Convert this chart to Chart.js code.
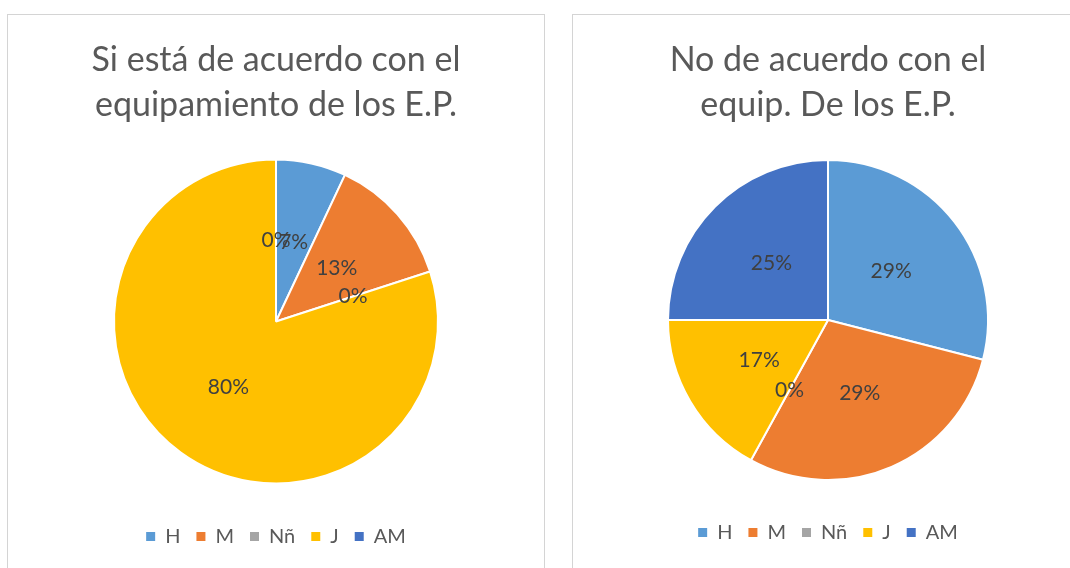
<!DOCTYPE html>
<html lang="es">
<head>
<meta charset="UTF-8">
<title>Equipamiento de los E.P.</title>
<script src="https://cdn.jsdelivr.net/npm/chart.js"></script>
<style>
  html, body { margin: 0; padding: 0; background: #fff; width: 1070px; height: 568px; overflow: hidden; position: relative; }
  .panel { position: absolute; top: 14px; height: 600px; border: 1px solid #d4d4d4; box-sizing: border-box; }
  canvas { position: absolute; top: 14px; }
</style>
</head>
<body>
  <div class="panel" style="left:7px; width:538px;"></div>
  <div class="panel" style="left:572px; width:520px;"></div>
  <canvas id="chartSi" width="538" height="560" style="left:7px;"></canvas>
  <canvas id="chartNo" width="512" height="560" style="left:572px;"></canvas>

<script>
// categorías
const categorias = ['H', 'M', 'Nñ', 'J', 'AM'];
const colores = ['#5B9BD5', '#ED7D31', '#A5A5A5', '#FFC000', '#4472C4'];

// porcentajes
const valoresSi = [7, 13, 0, 80, 0];
const valoresNo = [29, 29, 0, 17, 25];

const tituloSi = ['Si está de acuerdo con el', 'equipamiento de los E.P.'];
const tituloNo = ['No de acuerdo con el', 'equip. De los E.P.'];

const fuente = "Lato, 'Open Sans', sans-serif";
const gris = '#595959';

// etiquetas de porcentaje dentro de cada porción
const etiquetas = {
    id: 'etiquetas',
    afterDatasetsDraw(chart) {
        const ctx = chart.ctx;
        const meta = chart.getDatasetMeta(0);
        const data = chart.data.datasets[0].data;
        ctx.save();
        ctx.font = '21px ' + fuente;
        ctx.fillStyle = '#404040';
        ctx.textAlign = 'center';
        ctx.textBaseline = 'middle';
        meta.data.forEach((arc, i) => {
            const p = arc.tooltipPosition();
            ctx.fillText(data[i] + '%', p.x, p.y);
        });
        ctx.restore();
    }
};

function crearPie(id, titulo, valores, radio, padTitulo, padAbajo) {
    new Chart(document.getElementById(id), {
        type: 'pie',
        data: {
            labels: categorias,
            datasets: [{
                data: valores,
                backgroundColor: colores,
                borderColor: '#FFFFFF',
                borderWidth: 2,
                radius: radio
            }]
        },
        options: {
            responsive: false,
            animation: false,
            devicePixelRatio: 1,
            layout: { padding: { bottom: padAbajo } },
            plugins: {
                tooltip: { enabled: false },
                title: {
                    display: true,
                    text: titulo,
                    color: gris,
                    font: { family: fuente, size: 34, weight: '400', lineHeight: '45px' },
                    padding: padTitulo
                },
                legend: {
                    position: 'bottom',
                    labels: {
                        color: gris,
                        font: { family: fuente, size: 20 },
                        boxWidth: 9,
                        boxHeight: 9,
                        padding: 16,
                        generateLabels(chart) {
                            return Chart.overrides.pie.plugins.legend.labels.generateLabels(chart)
                                .map(l => Object.assign(l, { lineWidth: 0 }));
                        }
                    }
                }
            }
        },
        plugins: [etiquetas]
    });
}

crearPie('chartSi', tituloSi, valoresSi, 162, { top: 23.5, bottom: 5 }, 17.5);
crearPie('chartNo', tituloNo, valoresNo, 160, { top: 23.5, bottom: 6 }, 21.5);
</script>
</body>
</html>
